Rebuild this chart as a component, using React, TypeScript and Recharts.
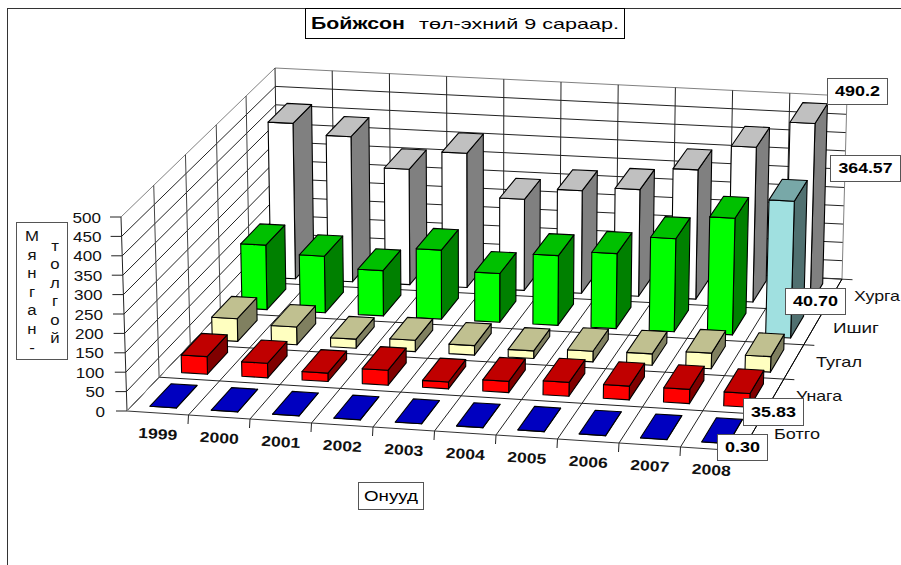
import { BarChart, Bar, XAxis, YAxis, LabelList } from 'recharts'

const years = ['1999', '2000', '2001', '2002', '2003', '2004', '2005', '2006', '2007', '2008']
const botgo = [0.3, 0.3, 0.3, 0.3, 0.3, 0.3, 0.3, 0.3, 0.3, 0.3]
const unaga = [46, 38, 22, 39, 18, 29, 36, 36, 37, 35.83]
const tugal = [60, 47, 24, 30, 25, 20, 28, 30, 41, 40.7]
const ishig = [172, 151, 121, 184, 130, 186, 200, 248, 311, 364.57]
const khurga = [419, 391, 311, 362, 246, 277, 288, 349, 418, 490.2]
const yTicks = [0, 50, 100, 150, 200, 250, 300, 350, 400, 450, 500]
const seriesNames = ['Ботго', 'Унага', 'Тугал', 'Ишиг', 'Хурга']

const data = years.map((year, i) => ({
  year,
  botgo: botgo[i],
  unaga: unaga[i],
  tugal: tugal[i],
  ishig: ishig[i],
  khurga: khurga[i],
}))

const W = 901
const H = 565
const X_AXIS_H = 25
const PLOT_TOP = 30
const PLOT_H = H - X_AXIS_H - PLOT_TOP
const FONT = '"Liberation Sans", Arial, sans-serif'
const DEPTH_SQUEEZE = 1.08

type Pt = [number, number]

// bilinear across a quad (front-left, front-right, back-right, back-left),
// rows get a little narrower towards the back
const quadAt = (q: Pt[]) => (u: number, v: number): Pt => {
  const d = (DEPTH_SQUEEZE * v) / (1 + (DEPTH_SQUEEZE - 1) * v)
  const at = (n: 0 | 1) =>
    (q[0][n] + (q[1][n] - q[0][n]) * u) * (1 - d) + (q[3][n] + (q[2][n] - q[3][n]) * u) * d
  return [at(0), at(1)]
}

const floorAt = quadAt([[127, 411], [742, 451], [842, 279], [278, 252]])
const ceilAt = quadAt([[121, 217], [748, 255], [847, 96], [275, 68]])

// f is the share of the full axis height, 0 on the floor, 1 at the top
function project(u: number, v: number, f: number): Pt {
  const a = floorAt(u, v)
  const b = ceilAt(u, v)
  return [a[0] + (b[0] - a[0]) * f, a[1] + (b[1] - a[1]) * f]
}

const poly = (pts: Pt[]) => pts.map((p) => p.map((n) => n.toFixed(1)).join(',')).join(' ')

const seg = (a: Pt, b: Pt, stroke: string, key: string | number) => (
  <line key={key} x1={a[0]} y1={a[1]} x2={b[0]} y2={b[1]} stroke={stroke} strokeWidth={1} />
)

type Faces = { front: string; top: string; side: string }

const BOX3D = (row: number, faces: Faces, lastFaces?: Faces) =>
  function Box3D(props: any) {
    const { index, height, background } = props
    const c = lastFaces && index === years.length - 1 ? lastFaces : faces
    const f = Math.max(height, 0) / background.height
    const u0 = (index + 0.285) / 10
    const u1 = (index + 0.715) / 10
    const v0 = (row + 0.17) / 5
    const v1 = (row + 0.83) / 5
    return (
      <g stroke="#000" strokeWidth={1.1} strokeLinejoin="round">
        <polygon
          fill={c.side}
          points={poly([project(u1, v0, 0), project(u1, v1, 0), project(u1, v1, f), project(u1, v0, f)])}
        />
        <polygon
          fill={c.front}
          points={poly([project(u0, v0, 0), project(u1, v0, 0), project(u1, v0, f), project(u0, v0, f)])}
        />
        <polygon
          fill={c.top}
          points={poly([project(u0, v0, f), project(u1, v0, f), project(u1, v1, f), project(u0, v1, f)])}
        />
      </g>
    )
  }

function Walls() {
  const lines = []
  yTicks.forEach((t, i) => {
    const f = t / 500
    const c = t === 500 ? '#808080' : '#222'
    lines.push(seg(project(0, 1, f), project(1, 1, f), c, `b${i}`))
    lines.push(seg(project(0, 0, f), project(0, 1, f), c, `l${i}`))
  })
  for (let i = 0; i <= 10; i++) {
    lines.push(seg(project(i / 10, 1, 0), project(i / 10, 1, 1), i === 10 ? '#808080' : '#222', `bv${i}`))
    lines.push(seg(project(i / 10, 0, 0), project(i / 10, 1, 0), '#222', `fv${i}`))
    if (i > 0) {
      const a = project(i / 10, 0, 0)
      lines.push(seg(a, [a[0] - 0.5, a[1] + 9], '#222', `ft${i}`))
    }
  }
  for (let k = 0; k <= 5; k++) {
    const a = project(1, k / 5, 0)
    lines.push(seg(project(0, k / 5, 0), [a[0] + 10.5, a[1] + 0.7], k === 0 || k === 5 ? '#333' : '#222', `fh${k}`))
    if (k < 5) lines.push(seg(project(0, k / 5, 0), project(0, k / 5, 1), k === 0 ? '#222' : '#444', `lv${k}`))
  }
  lines.push(seg(project(0, 0, 0), project(0, 1, 0), '#808080', 'edgeL'))
  lines.push(seg(project(1, 0, 0), project(1, 1, 0), '#000', 'edgeR'))
  return (
    <g>
      <line x1={7.5} y1={8} x2={7.5} y2={H} stroke="#333" />
      <line x1={7} y1={8.5} x2={W} y2={8.5} stroke="#333" />
      {lines}
    </g>
  )
}

function LabelBox({ x, y, w, h, text, bold, size = 15, len, stroke = '#555' }: any) {
  return (
    <g>
      <rect x={x + 0.5} y={y + 0.5} width={w} height={h} fill="#fff" stroke={stroke} />
      <text
        x={x + w / 2 + 0.5}
        y={y + h / 2 + size * 0.36}
        textAnchor="middle"
        fontFamily={FONT}
        fontSize={size}
        fontWeight={bold ? 700 : 400}
        textLength={len}
        lengthAdjust="spacingAndGlyphs"
        fill="#000"
      >
        {text}
      </text>
    </g>
  )
}

// value box on the last bar of a series
const lastValueBox = (x: number, y: number, w: number, h: number, len: number, text: string) =>
  function LastValueBox(props: any) {
    if (props.index !== years.length - 1) return null
    return <LabelBox x={x} y={y} w={w} h={h} bold len={len} text={text} />
  }

function YTick(props: any) {
  const f = (PLOT_TOP + PLOT_H - props.y) / PLOT_H
  const p = project(0, 0, f)
  return (
    <g>
      <line x1={p[0] - 11} y1={p[1]} x2={p[0]} y2={p[1]} stroke="#222" />
      <text
        x={p[0] - 20 - (1 - f) * 2}
        y={p[1] + 5.5}
        textAnchor="end"
        fontFamily={FONT}
        fontSize={15}
        fill="#111"
        textLength={String(props.payload.value).length * 9.5}
        lengthAdjust="spacingAndGlyphs"
      >
        {props.payload.value}
      </text>
    </g>
  )
}

function XTick(props: any) {
  const p = project((props.index + 0.5) / 10, 0, 0)
  const x = p[0]
  const y = p[1] + 21
  return (
    <text
      x={x}
      y={y + 5}
      transform={`rotate(3.7 ${x} ${y})`}
      textAnchor="middle"
      fontFamily={FONT}
      fontSize={14.5}
      fontWeight={700}
      textLength={39}
      lengthAdjust="spacingAndGlyphs"
      fill="#111"
    >
      {props.payload.value}
    </text>
  )
}

const depthLabelPos: Pt[] = [[797, 434], [819, 396], [839, 362], [856, 328], [877, 296]]
const col1 = ['М', 'я', 'н', 'г', 'а', 'н', '-']
const col2 = ['т', 'о', 'л', 'г', 'о', 'й']

function Overlay() {
  return (
    <g>
      {seriesNames.map((s, i) => (
        <text
          key={s}
          x={depthLabelPos[i][0]}
          y={depthLabelPos[i][1] + 5}
          textAnchor="middle"
          fontFamily={FONT}
          fontSize={14.5}
          textLength={46}
          lengthAdjust="spacingAndGlyphs"
          fill="#111"
        >
          {s}
        </text>
      ))}
      {/* title */}
      <rect x={305.5} y={8.5} width={319} height={30} fill="#fff" stroke="#000" />
      <text x={311} y={29} fontFamily={FONT} fontSize={16.5} fontWeight={700} textLength={94} lengthAdjust="spacingAndGlyphs">
        Бойжсон
      </text>
      <text x={419} y={29} fontFamily={FONT} fontSize={15} textLength={200} lengthAdjust="spacingAndGlyphs">
        төл-эхний 9 сараар.
      </text>
      {/* y axis title */}
      <rect x={16.5} y={222.5} width={51} height={137} fill="#fff" stroke="#555" />
      {col1.map((c, i) => (
        <text
          key={i}
          transform={`translate(32 ${241 + i * 18.6}) scale(1.12 1)`}
          textAnchor="middle"
          fontFamily={FONT}
          fontSize={15}
          fill="#111"
        >
          {c}
        </text>
      ))}
      {col2.map((c, i) => (
        <text
          key={i}
          transform={`translate(55 ${251 + i * 18.4}) scale(1.12 1)`}
          textAnchor="middle"
          fontFamily={FONT}
          fontSize={15}
          fill="#111"
        >
          {c}
        </text>
      ))}
      <LabelBox x={358} y={482} w={65} h={27} text="Онууд" size={14.5} len={54} />
    </g>
  )
}

export default function App() {
  return (
    <div style={{ position: 'absolute', left: 0, top: 0, width: W, height: H, background: '#fff' }}>
      <BarChart
        width={W}
        height={H}
        data={data}
        margin={{ top: PLOT_TOP, right: 0, bottom: 0, left: 0 }}
      >
        <Walls />
        <Overlay />
        <XAxis dataKey="year" height={X_AXIS_H} interval={0} axisLine={false} tickLine={false} tick={<XTick />} />
        <YAxis domain={[0, 500]} ticks={yTicks} width={40} axisLine={false} tickLine={false} tick={<YTick />} />
        <Bar
          dataKey="khurga"
          isAnimationActive={false}
          shape={BOX3D(4, { front: '#ffffff', top: '#c0c0c0', side: '#808080' })}
        >
          <LabelList content={lastValueBox(827, 78, 60, 26, 45, '490.2')} />
        </Bar>
        <Bar
          dataKey="ishig"
          isAnimationActive={false}
          shape={BOX3D(
            3,
            { front: '#00ff00', top: '#00c000', side: '#008000' },
            { front: '#a0e0e0', top: '#78a8a8', side: '#507070' },
          )}
        >
          <LabelList content={lastValueBox(830, 155, 70, 26, 54, '364.57')} />
        </Bar>
        <Bar
          dataKey="tugal"
          isAnimationActive={false}
          shape={BOX3D(2, { front: '#ffffc0', top: '#c0c090', side: '#808060' })}
        >
          <LabelList content={lastValueBox(785, 288, 60, 26, 45, '40.70')} />
        </Bar>
        <Bar
          dataKey="unaga"
          isAnimationActive={false}
          shape={BOX3D(1, { front: '#ff0000', top: '#c00000', side: '#800000' })}
        >
          <LabelList content={lastValueBox(743, 398, 60, 27, 45, '35.83')} />
        </Bar>
        <Bar
          dataKey="botgo"
          isAnimationActive={false}
          shape={BOX3D(0, { front: '#0000ff', top: '#0000c0', side: '#000080' })}
        >
          <LabelList content={lastValueBox(717, 434, 50, 26, 35, '0.30')} />
        </Bar>
      </BarChart>
    </div>
  )
}
